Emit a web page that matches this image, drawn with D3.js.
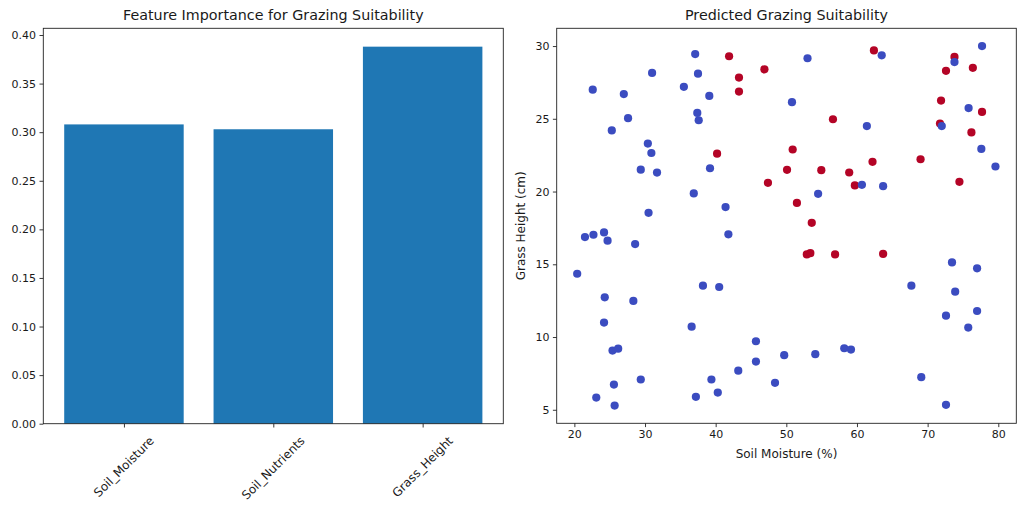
<!DOCTYPE html>
<html><head><meta charset="utf-8">
<script src="https://cdn.jsdelivr.net/npm/d3@7"></script>
<style>body{margin:0;background:#fff}svg text{font-family:"DejaVu Sans",sans-serif;fill:#1a1a1a}</style>
</head><body>
<svg id="c" width="1024" height="508"></svg>
<script>
// ---- data ----
const features = ["Soil_Moisture", "Soil_Nutrients", "Grass_Height"];
const importance = [0.308, 0.303, 0.388];
const impTicks = [0, 0.05, 0.10, 0.15, 0.20, 0.25, 0.30, 0.35, 0.40];

// scatter: soil moisture (%), grass height (cm), predicted suitability (0/1)
const moisture = [22.6,27.0,27.6,25.3,31.0,37.1,37.5,35.5,39.1,37.4,37.6,30.4,30.9,29.4,31.7,39.2,36.9,41.4,30.5,
  53.0,63.5,77.7,73.8,50.8,75.8,61.4,72.0,77.6,79.6,54.5,60.7,63.7,
  21.5,22.7,24.2,24.7,28.6,20.4,24.3,28.35,24.2,25.4,26.2,25.6,29.4,23.1,25.7,41.8,38.2,40.5,36.6,45.7,45.7,43.2,39.4,40.3,37.2,
  73.45,77.0,67.7,73.9,77.0,72.6,75.75,49.7,54.1,58.2,59.15,48.4,69.1,72.6,
  41.9,46.9,43.3,43.3,40.2,47.4,
  62.4,73.8,72.6,76.4,71.9,77.7,56.6,71.75,76.2,50.9,62.2,69.0,50.1,54.95,58.9,74.5,59.7,51.5,53.6,
  52.9,53.4,56.9,63.7];
const grassHeight = [27.0,26.7,25.04,24.2,28.15,29.45,28.1,27.2,26.57,25.4,24.9,23.3,22.65,21.5,21.3,21.6,19.87,18.93,18.54,
  29.16,29.36,30.0,28.9,26.14,25.74,24.5,24.5,22.93,21.72,19.84,20.46,20.37,
  16.87,17.03,17.19,16.62,16.39,14.35,12.73,12.48,10.99,9.07,9.20,6.73,7.08,5.84,5.29,17.06,13.53,13.44,10.71,9.71,8.31,7.69,7.08,6.18,5.89,
  15.13,14.72,13.53,13.12,11.79,11.47,10.65,8.75,8.82,9.23,9.14,6.85,7.24,5.34,
  29.3,28.4,27.83,26.87,22.6,20.6,
  29.7,29.25,28.3,28.5,26.25,25.47,24.97,24.67,24.06,22.89,22.04,22.22,21.49,21.47,21.31,20.67,20.42,19.22,17.85,
  15.68,15.77,15.68,15.72];
const suitable = [0,0,0,0,0,0,0,0,0,0,0,0,0,0,0,0,0,0,0,
  0,0,0,0,0,0,0,0,0,0,0,0,0,
  0,0,0,0,0,0,0,0,0,0,0,0,0,0,0,0,0,0,0,0,0,0,0,0,0,
  0,0,0,0,0,0,0,0,0,0,0,0,0,0,
  1,1,1,1,1,1,
  1,1,1,1,1,1,1,1,1,1,1,1,1,1,1,1,1,1,1,
  1,1,1,1];
const xTicks = [20, 30, 40, 50, 60, 70, 80];
const yTicks = [5, 10, 15, 20, 25, 30];

// ---- layout ----
const svg = d3.select("#c");
const FS = 11, LFS = 12, TITLE_FS = 14.3;
const colors = ["#3b4cc0", "#b40426"];

// ===== Left: bar chart =====
const L = {x0: 43.3, x1: 503.3, y0: 28.3, y1: 423.7};
const xb = d3.scaleLinear().domain([-0.54, 2.54]).range([L.x0, L.x1]);
const yb = d3.scaleLinear().domain([0, 0.4069]).range([L.y1, L.y0]);
const gL = svg.append("g");
gL.selectAll("rect.bar").data(features).join("rect")
  .attr("x", (d, i) => xb(i - 0.4)).attr("width", xb(0.8) - xb(0))
  .attr("y", (d, i) => yb(importance[i])).attr("height", (d, i) => yb(0) - yb(importance[i]))
  .attr("fill", "#1f77b4");
gL.append("rect").attr("x", L.x0).attr("y", L.y0).attr("width", L.x1 - L.x0).attr("height", L.y1 - L.y0)
  .attr("fill", "none").attr("stroke", "#222").attr("stroke-width", 0.9);
const yAxL = gL.append("g").attr("transform", `translate(${L.x0},0)`)
  .call(d3.axisLeft(yb).tickValues(impTicks).tickFormat(d3.format(".2f")).tickSize(3.8).tickPadding(3.5));
const xAxL = gL.append("g").attr("transform", `translate(0,${L.y1})`)
  .call(d3.axisBottom(xb).tickValues([0, 1, 2]).tickFormat("").tickSize(3.8));
[yAxL, xAxL].forEach(a => { a.select(".domain").remove(); a.selectAll("line").attr("stroke", "#222").attr("stroke-width", 0.9);
  a.selectAll("text").attr("font-size", FS).attr("font-family", "DejaVu Sans").attr("fill", "#1a1a1a"); });
// rotated category labels
features.forEach((f, i) => {
  const t = gL.append("text").text(f).attr("font-size", LFS).attr("text-anchor", "middle").attr("dominant-baseline", "central");
  const w = t.node().getComputedTextLength();
  const h = LFS * 1.0;
  const bh = (w + h) / Math.SQRT2;
  t.attr("transform", `translate(${xb(i)},${434.5 + bh / 2}) rotate(-45)`);
});
gL.append("text").attr("x", (L.x0 + L.x1) / 2).attr("y", 19.7).attr("text-anchor", "middle")
  .attr("font-size", TITLE_FS).text("Feature Importance for Grazing Suitability");

// ===== Right: scatter =====
const R = {x0: 556.7, x1: 1016.3, y0: 28.3, y1: 423.3};
const xs = d3.scaleLinear().domain([17.5, 82.55]).range([R.x0, R.x1]);
const ys = d3.scaleLinear().domain([4.07, 31.22]).range([R.y1, R.y0]);
const gR = svg.append("g");
const idx = d3.range(moisture.length).sort((a, b) => suitable[b] - suitable[a]);
gR.selectAll("circle").data(idx).join("circle")
  .attr("cx", i => xs(moisture[i])).attr("cy", i => ys(grassHeight[i])).attr("r", 4.1)
  .attr("fill", i => colors[suitable[i]]);
gR.append("rect").attr("x", R.x0).attr("y", R.y0).attr("width", R.x1 - R.x0).attr("height", R.y1 - R.y0)
  .attr("fill", "none").attr("stroke", "#222").attr("stroke-width", 0.9);
const yAxR = gR.append("g").attr("transform", `translate(${R.x0},0)`)
  .call(d3.axisLeft(ys).tickValues(yTicks).tickSize(3.8).tickPadding(3.5));
const xAxR = gR.append("g").attr("transform", `translate(0,${R.y1})`)
  .call(d3.axisBottom(xs).tickValues(xTicks).tickSize(3.8).tickPadding(3.5));
[yAxR, xAxR].forEach(a => { a.select(".domain").remove(); a.selectAll("line").attr("stroke", "#222").attr("stroke-width", 0.9);
  a.selectAll("text").attr("font-size", FS).attr("font-family", "DejaVu Sans").attr("fill", "#1a1a1a"); });
gR.append("text").attr("x", (R.x0 + R.x1) / 2).attr("y", 19.7).attr("text-anchor", "middle")
  .attr("font-size", TITLE_FS).text("Predicted Grazing Suitability");
gR.append("text").attr("x", (R.x0 + R.x1) / 2).attr("y", 457.5).attr("text-anchor", "middle")
  .attr("font-size", LFS).text("Soil Moisture (%)");
gR.append("text").attr("transform", `translate(524.5,${(R.y0 + R.y1) / 2}) rotate(-90)`).attr("text-anchor", "middle")
  .attr("font-size", LFS).text("Grass Height (cm)");
</script>
</body></html>
